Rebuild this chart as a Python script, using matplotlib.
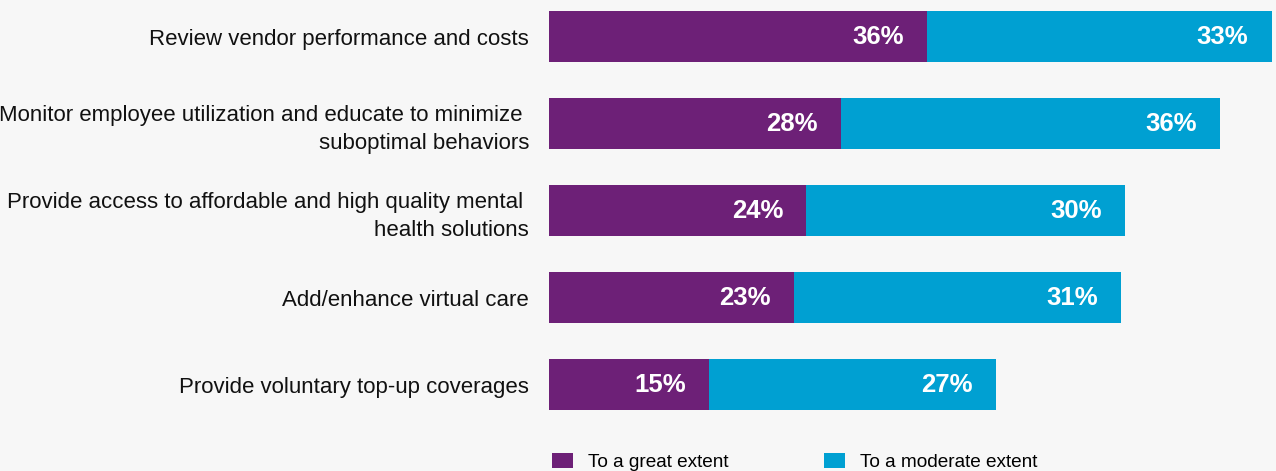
import matplotlib.pyplot as plt
import numpy as np

categorias = [
    "Review vendor performance and costs",
    "Monitor employee utilization and educate to minimize \nsuboptimal behaviors",
    "Provide access to affordable and high quality mental \nhealth solutions",
    "Add/enhance virtual care",
    "Provide voluntary top-up coverages",
]
grande = [35.8, 27.7, 24.4, 23.2, 15.2]
moderada = [32.7, 35.9, 30.2, 31.0, 27.2]
rotulos_grande = [36, 28, 24, 23, 15]
rotulos_moderada = [33, 36, 30, 31, 27]
series = ["To a great extent", "To a moderate extent"]

roxo = "#6d2077"
azul = "#00a0d2"
fundo = "#f7f7f7"

plt.rcParams['font.family'] = ['Liberation Sans', 'DejaVu Sans']

fig = plt.figure(figsize=(12.76, 4.71), dpi=100, facecolor=fundo)
ax = fig.add_axes([549 / 1276, 41 / 471, 727 / 1276, 430 / 471])
ax.set_facecolor(fundo)

y = np.arange(len(categorias))
g = np.array(grande)
m = np.array(moderada)
b1 = ax.barh(y, g, height=0.59, color=roxo, label=series[0])
b2 = ax.barh(y, m, left=g, height=0.59, color=azul, label=series[1])

ax.set_xlim(0, 727 / 10.55)
ax.set_ylim(4.52, -0.42)

# rótulos de valor dentro das barras
pad = 2.2
for i in range(len(categorias)):
    ax.text(g[i] - pad, y[i], f"{rotulos_grande[i]}%", ha='right', va='center',
            color='white', fontsize=18.5, fontweight='bold')
    ax.text(g[i] + m[i] - pad, y[i], f"{rotulos_moderada[i]}%", ha='right',
            va='center', color='white', fontsize=18.5, fontweight='bold')

ax.set_yticks(y)
ax.set_yticklabels(categorias, fontsize=16, color='#111111', ha='right',
                   linespacing=1.4)
ax.tick_params(axis='y', length=0, pad=14.4)
ax.set_xticks([])
for s in ax.spines.values():
    s.set_visible(False)

fig.legend(handles=[b1, b2], labels=series, loc='lower left',
           bbox_to_anchor=(552 / 1276, 0), ncol=2, frameon=False,
           fontsize=13.7, handlelength=1.1, handleheight=0.9,
           handletextpad=0.8, columnspacing=5.0,
           borderpad=0, borderaxespad=0)

plt.savefig('out.png', dpi=100, facecolor=fundo)
